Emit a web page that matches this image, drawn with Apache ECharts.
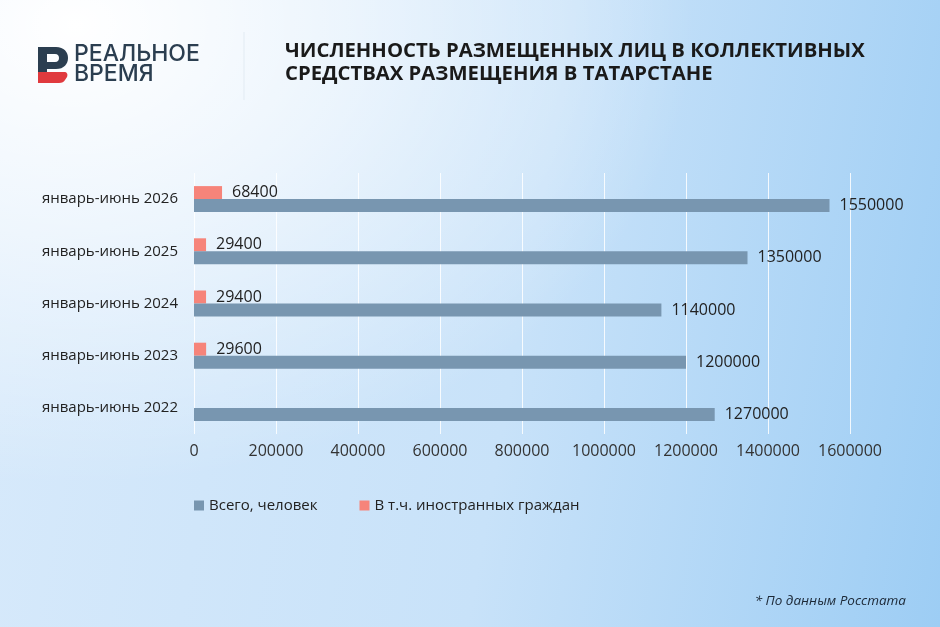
<!DOCTYPE html>
<html>
<head>
<meta charset="utf-8">
<script src="https://cdn.jsdelivr.net/npm/echarts@6/dist/echarts.min.js"></script>
<style>
  html, body { margin: 0; padding: 0; }
  #chart {
    width: 940px; height: 627px;
    background:
      radial-gradient(ellipse 620px 460px at 8% 4%, rgba(255,255,255,1) 0%, rgba(255,255,255,0.6) 45%, rgba(255,255,255,0) 100%),
      linear-gradient(100deg, #d8eafb 0%, #c8e2f9 55%, #9dcdf4 100%);
  }
</style>
</head>
<body>
<div id="chart"></div>
<script>
var periods = ['январь-июнь 2022', 'январь-июнь 2023', 'январь-июнь 2024', 'январь-июнь 2025', 'январь-июнь 2026'];
var totalGuests = [1270000, 1200000, 1140000, 1350000, 1550000];
var foreignGuests = ['-', 29600, 29400, 29400, 68400];
var seriesNames = ['Всего, человек', 'В т.ч. иностранных граждан'];
var titleLines = ['ЧИСЛЕННОСТЬ РАЗМЕЩЕННЫХ ЛИЦ В КОЛЛЕКТИВНЫХ', 'СРЕДСТВАХ РАЗМЕЩЕНИЯ В ТАТАРСТАНЕ'];

// logo mark as a small inline svg
var logoSvg = '<svg xmlns="http://www.w3.org/2000/svg" width="31" height="36" viewBox="0 0 31 36">' +
    '<path fill="#2b3e50" d="M0 0 H18 C26 0 30 5 30 11 C30 17 26 22 18 22 H9 V26 H0 Z M9 7 V15 H17 C20 15 21 13 21 11 C21 9 20 7 17 7 Z"/>' +
    '<path fill="#e03a3e" d="M0 25 H26 C29 25 30 27 29 30 L27 33 C26 35 24 36 21 36 H0 Z"/>' +
    '</svg>';

var chart = echarts.init(document.getElementById('chart'));

var valueLabel = { show: true, position: 'right', distance: 10, fontSize: 16, color: '#222' };

var option = {
    backgroundColor: 'transparent',
    textStyle: { fontFamily: 'Open Sans' },
    grid: { left: 194, right: 90, top: 173, bottom: 193 },
    legend: {
        left: 189,
        top: 493,
        itemWidth: 10,
        itemHeight: 10,
        itemGap: 42,
        icon: 'rect',
        textStyle: { fontSize: 15, color: '#222', fontFamily: 'Open Sans' },
        data: seriesNames
    },
    xAxis: {
        type: 'value',
        min: 0,
        max: 1600000,
        interval: 200000,
        axisLine: { show: false },
        axisTick: { show: false },
        axisLabel: {
            fontSize: 16, color: '#333', margin: 9,
            formatter: function (v) { return String(v); }
        },
        splitLine: { lineStyle: { color: 'rgba(255,255,255,0.85)', width: 1 } }
    },
    yAxis: {
        type: 'category',
        data: periods,
        axisLine: { show: false },
        axisTick: { show: false },
        axisLabel: { fontSize: 15, color: '#222', margin: 16 }
    },
    series: [
        {
            name: seriesNames[1],
            type: 'bar',
            data: foreignGuests,
            barWidth: 13,
            barGap: '0%',
            itemStyle: { color: '#f6847a' },
            label: valueLabel
        },
        {
            name: seriesNames[0],
            type: 'bar',
            data: totalGuests,
            barWidth: 13,
            barGap: '0%',
            itemStyle: { color: '#7896b0' },
            label: valueLabel
        }
    ],
    graphic: [
        {
            type: 'image', left: 38, top: 47,
            style: { image: 'data:image/svg+xml;charset=utf-8,' + encodeURIComponent(logoSvg), width: 31, height: 36 }
        },
        {
            type: 'text', left: 74, top: 43,
            style: { text: 'РЕАЛЬНОЕ', fontSize: 23, fontWeight: 500, fontFamily: 'Inter', fill: '#2b3e50' }
        },
        {
            type: 'text', left: 74, top: 63,
            style: { text: 'ВРЕМЯ', fontSize: 23, fontWeight: 500, fontFamily: 'Inter', fill: '#2b3e50' }
        },
        {
            type: 'line',
            shape: { x1: 244, y1: 32, x2: 244, y2: 100 },
            style: { stroke: '#e2ebf3', lineWidth: 1 }
        },
        {
            type: 'text', left: 285, top: 41,
            style: { text: titleLines[0], fontSize: 20.3, fontWeight: 'bold', fontFamily: 'Open Sans', fill: '#1a1a1a' }
        },
        {
            type: 'text', left: 285, top: 64,
            style: { text: titleLines[1], fontSize: 20.3, fontWeight: 'bold', fontFamily: 'Open Sans', fill: '#1a1a1a' }
        },
        {
            type: 'text', right: 34, top: 594,
            style: { text: '* По данным Росстата', fontSize: 13.5, fontStyle: 'italic', fontFamily: 'Open Sans', fill: '#1c2836' }
        }
    ]
};

chart.setOption(option);
</script>
</body>
</html>
